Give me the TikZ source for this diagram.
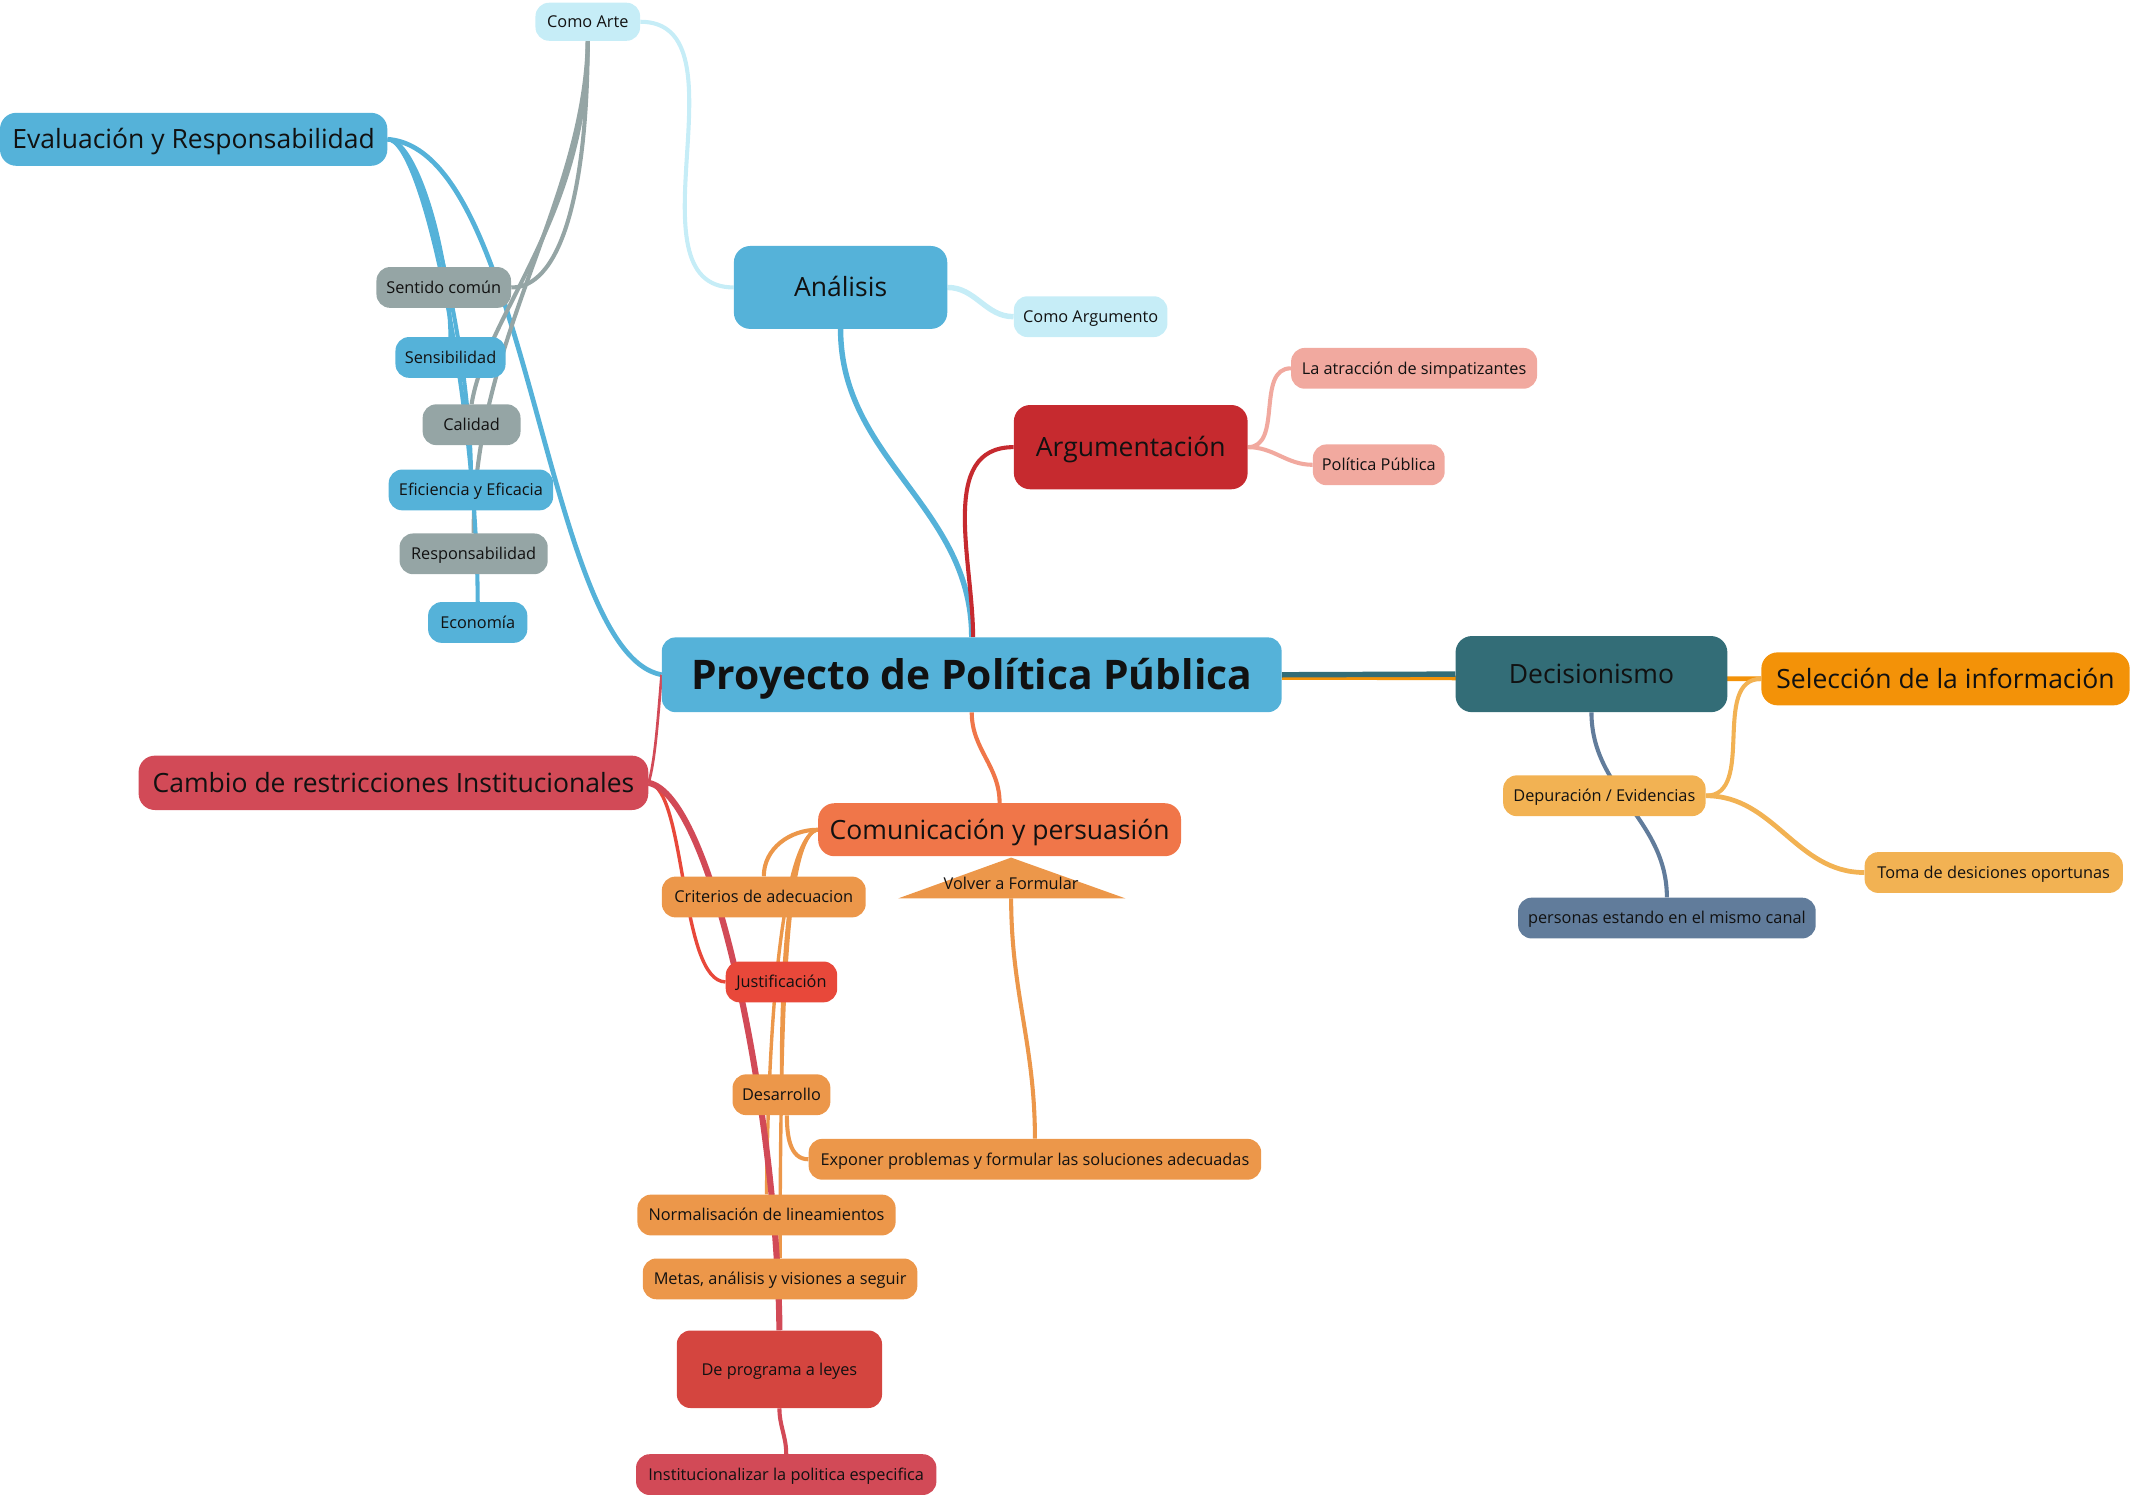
\documentclass[tikz,border=0pt]{standalone}
\usepackage{fontspec}
\setmainfont{Open Sans}
\usetikzlibrary{positioning}
\pgfdeclarelayer{background}
\pgfsetlayers{background,main}
\definecolor{cblue}{HTML}{55B2D9}
\definecolor{ccyan}{HTML}{C6EDF7}
\definecolor{cgray}{HTML}{95A5A5}
\definecolor{cargred}{HTML}{C62A2F}
\definecolor{csalmon}{HTML}{F1A99F}
\definecolor{cteal}{HTML}{336D77}
\definecolor{csel}{HTML}{F39208}
\definecolor{cltor}{HTML}{F2B253}
\definecolor{cslate}{HTML}{617C9B}
\definecolor{crasp}{HTML}{D24A57}
\definecolor{ccom}{HTML}{F07649}
\definecolor{corange}{HTML}{EC974A}
\definecolor{cjust}{HTML}{E8483A}
\definecolor{cprog}{HTML}{D4453F}
\definecolor{ctxt}{HTML}{111111}

\begin{document}
\begin{tikzpicture}[x=1pt,y=-1pt,line cap=round,line join=round,
	box/.style={rounded corners=10pt,inner sep=0pt,text=ctxt,align=center},
	sml/.style={box,font=\fontsize{12}{14}\selectfont,minimum height=30pt,text height=8.6pt,text depth=0pt},
	mid/.style={box,font=\fontsize{19.5}{22}\selectfont,rounded corners=12pt,text height=14pt,text depth=0pt}]
			\useasboundingbox (0,0) rectangle (1568,1101);
			\node[box,fill=cblue,font=\fontsize{30}{34}\selectfont\bfseries,minimum width=456pt,minimum height=55pt,text height=21.5pt,text depth=0pt] (root) at (715,496.5) {Proyecto de Política Pública};
			\node[mid,fill=cblue,minimum width=157pt,minimum height=61pt] (ana) at (618.5,211.5) {Análisis};
			\node[mid,fill=cargred,minimum width=172pt,minimum height=62pt] (arg) at (832,329) {Argumentación};
			\node[mid,fill=cblue,minimum width=285pt,minimum height=39pt] (eval) at (142.5,102.5) {Evaluación y Responsabilidad};
			\node[mid,fill=crasp,minimum width=375pt,minimum height=40pt] (camb) at (289.5,576) {Cambio de restricciones Institucionales};
			\node[mid,fill=ccom,minimum width=267pt,minimum height=39pt] (com) at (735.5,610.5) {Comunicación y persuasión};
			\node[mid,fill=cteal,minimum width=200pt,minimum height=56pt] (dec) at (1171,496) {Decisionismo};
			\node[mid,fill=csel,minimum width=271pt,minimum height=39pt] (sel) at (1431.5,499.5) {Selección de la información};
			\node[sml,fill=ccyan,minimum width=77pt,minimum height=28pt] (arte) at (432.5,16) {Como Arte};
			\node[sml,fill=ccyan,minimum width=113pt] (argu) at (802.5,233) {Como Argumento};
			\node[sml,fill=csalmon,minimum width=181pt] (atr) at (1040.5,271) {La atracción de simpatizantes};
			\node[sml,fill=csalmon,minimum width=97pt] (pol) at (1014.5,342) {Política Pública};
			\node[sml,fill=cgray,minimum width=99pt] (sent) at (326.5,211.5) {Sentido común};
			\node[sml,fill=cblue,minimum width=81pt] (sens) at (331.5,263) {Sensibilidad};
			\node[sml,fill=cgray,minimum width=72pt] (cal) at (347,312.5) {Calidad};
			\node[sml,fill=cblue,minimum width=121pt] (efi) at (346.5,360.5) {Eficiencia y Eficacia};
			\node[sml,fill=cgray,minimum width=109pt] (resp) at (348.5,407.5) {Responsabilidad};
			\node[sml,fill=cblue,minimum width=73pt] (eco) at (351.5,458) {Economía};
			\node[sml,fill=cltor,minimum width=149pt] (dep) at (1180.5,585.5) {Depuración / Evidencias};
			\node[sml,fill=cltor,minimum width=190pt] (toma) at (1467,642) {Toma de desiciones oportunas};
			\node[sml,fill=cslate,minimum width=219pt] (pers) at (1226.5,675.5) {personas estando en el mismo canal};
			\node[sml,fill=corange,minimum width=150pt] (crit) at (562,660) {Criterios de adecuacion};
			\node[sml,fill=cjust,minimum width=82pt] (just) at (575,722.5) {Justificación};
			\node[sml,fill=corange,minimum width=72pt] (des) at (575,805.5) {Desarrollo};
			\node[sml,fill=corange,minimum width=333pt] (exp) at (761.5,853) {Exponer problemas y formular las soluciones adecuadas};
			\node[sml,fill=corange,minimum width=190pt] (norm) at (564,894) {Normalisación de lineamientos};
			\node[sml,fill=corange,minimum width=202pt] (meta) at (574,941) {Metas, análisis y visiones a seguir};
			\node[sml,fill=cprog,minimum width=151pt,minimum height=57pt] (prog) at (573.5,1007.5) {De programa a leyes};
			\node[sml,fill=crasp,minimum width=221pt] (inst) at (578.5,1085) {Institucionalizar la politica especifica};
			\fill[corange] (744,631) -- (828,661) -- (661,661) -- cycle;
			\coordinate (volverbase) at (744,661);
			\node[box,font=\fontsize{12}{14}\selectfont,text height=8.6pt,text depth=0pt] (volver) at (744,650) {Volver a Formular};
			\begin{pgfonlayer}{background}
				\draw[cblue,line width=4pt] (root.north) to[out=90,in=-90] (ana.south);
				\draw[cargred,line width=3pt] ([xshift=1pt]root.north) to[out=90,in=180] (arg.west);
				\draw[cblue,line width=3.5pt] (root.west) .. controls (400,480) and (390,110) .. (eval.east);
				\draw[crasp,line width=2pt] (root.west) .. controls (484,530) and (482,560) .. (camb.east);
				\draw[ccom,line width=3pt] (root.south) to[out=-90,in=90] (com.north);
				\draw[csel,line width=3.5pt] ([yshift=-2pt]root.east) to[out=0,in=180] (sel.west);
				\draw[cteal,line width=4pt] (root.east) -- (dec.west);
				\draw[cslate,line width=3pt] (dec.south) to[out=-90,in=90] (pers.north);
				\draw[cltor,line width=3pt] (sel.west) to[out=180,in=0] (dep.east);
				\draw[cltor,line width=3.5pt] (dep.east) to[out=0,in=180] (toma.west);
				\draw[ccyan,line width=3pt] (ana.west) to[out=180,in=0] (arte.east);
				\draw[ccyan,line width=4pt] (ana.east) to[out=0,in=180] (argu.west);
				\draw[csalmon,line width=3pt] (arg.east) to[out=0,in=180] (atr.west);
				\draw[csalmon,line width=3pt] (arg.east) to[out=0,in=180] (pol.west);
				\draw[cgray,line width=3pt] (arte.south) .. controls (432,150) and (410,212) .. (sent.east);
				\draw[cgray,line width=3pt] (arte.south) .. controls (432,160) and (358,230) .. (cal.north);
				\draw[cgray,line width=3pt] (arte.south) .. controls (430,150) and (348,250) .. (resp.north);
				\draw[cblue,line width=3pt] (eval.east) .. controls (305,102) and (330,180) .. (sens.north);
				\draw[cblue,line width=3pt] (eval.east) .. controls (310,102) and (345,250) .. (efi.north);
				\draw[cblue,line width=3pt] (eval.east) .. controls (312,102) and (351,300) .. (eco.north);
				\draw[corange,line width=3pt] (com.west) to[out=180,in=90] (crit.north);
				\draw[corange,line width=2.5pt] (com.west) .. controls (585,612) and (575,680) .. (des.north);
				\draw[corange,line width=2.5pt] (com.west) .. controls (582,614) and (566,700) .. (norm.north);
				\draw[corange,line width=2.5pt] (com.west) .. controls (580,614) and (574,720) .. (meta.north);
				\draw[corange,line width=3pt] ([xshift=4pt]des.south) to[out=-90,in=180] (exp.west);
				\draw[corange,line width=3pt] (exp.north) to[out=90,in=-90] (volverbase);
				\draw[cjust,line width=2.5pt] (camb.east) .. controls (505,580) and (500,722) .. (just.west);
				\draw[crasp,line width=4.5pt] (camb.east) .. controls (525,585) and (572,820) .. (prog.north);
				\draw[crasp,line width=3pt] (prog.south) to[out=-90,in=90] (inst.north);
			\end{pgfonlayer}
		\end{tikzpicture}
\end{document}
